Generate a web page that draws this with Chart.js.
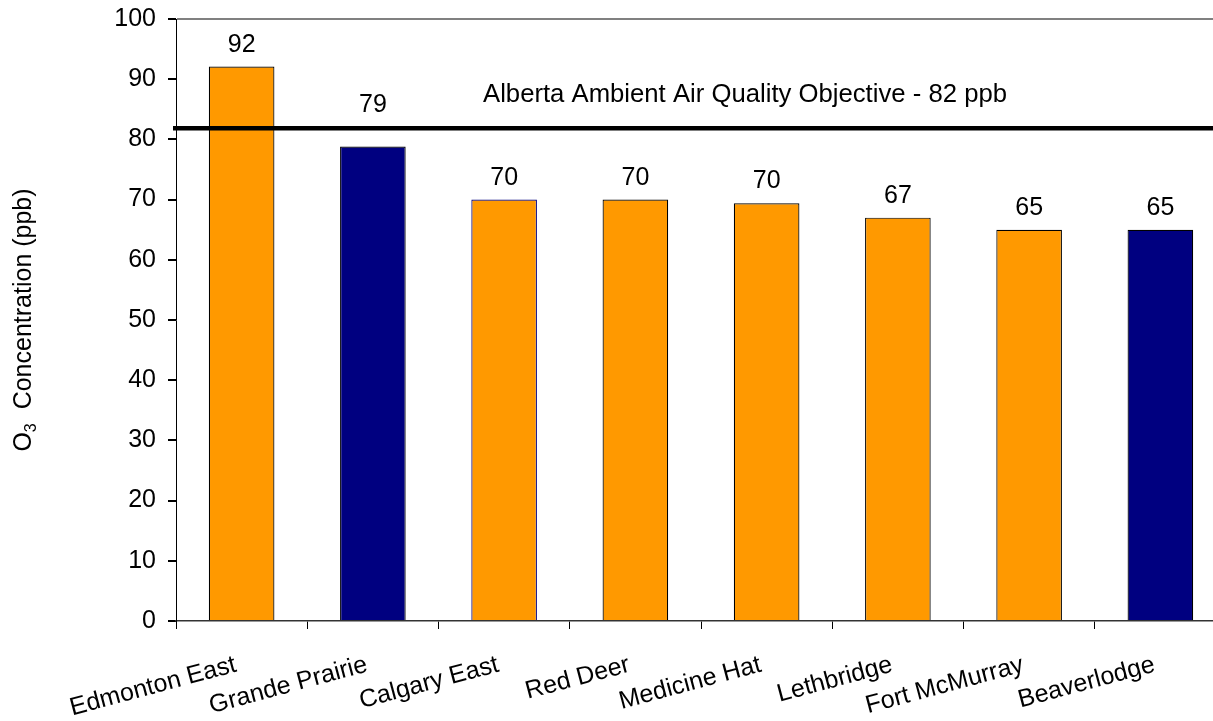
<!DOCTYPE html>
<html>
<head>
<meta charset="utf-8">
<script src="https://cdn.jsdelivr.net/npm/chart.js@4/dist/chart.umd.min.js"></script>
<style>
  html, body { margin: 0; padding: 0; background: #fff; overflow: hidden; }
  canvas { display: block; }
</style>
</head>
<body>
<canvas id="ozone-chart" width="1230" height="721"></canvas>
<script>
'use strict';

// data
var stations = ['Edmonton East', 'Grande Prairie', 'Calgary East', 'Red Deer',
  'Medicine Hat', 'Lethbridge', 'Fort McMurray', 'Beaverlodge'];
var ozoneValues = [92.1, 78.8, 70, 70, 69.4, 67, 65, 65];
var ozoneLabels = ['92', '79', '70', '70', '70', '67', '65', '65'];
var barColors = ['#FF9900', '#000080', '#FF9900', '#FF9900', '#FF9900', '#FF9900', '#FF9900', '#000080'];
var barBorders = ['#000000', '#000000', '#000080', '#000000', '#000000', '#000000', '#000000', '#000000'];
var objectiveValue = 82;
var objectiveText = 'Alberta Ambient Air Quality Objective - 82 ppb';
var yMin = 0;
var yMax = 100;
var yStep = 10;

var FONT = '"Liberation Sans", Arial, sans-serif';
var FONT_SIZE = 25;

// objective line + its label, data labels above bars, and the y title with subscript
var overlayPlugin = {
  id: 'overlay',
  afterDatasetsDraw: function(chart) {
    var ctx = chart.ctx;
    var area = chart.chartArea;
    var yScale = chart.scales.y;
    var lineY = yScale.getPixelForValue(objectiveValue) + 1;

    ctx.save();
    ctx.strokeStyle = '#000';
    ctx.lineWidth = 4.5;
    ctx.beginPath();
    ctx.moveTo(area.left - 3, lineY);
    ctx.lineTo(chart.width, lineY);
    ctx.stroke();

    ctx.fillStyle = '#000';
    ctx.font = '25.7px ' + FONT;
    ctx.textAlign = 'left';
    ctx.textBaseline = 'alphabetic';
    ctx.fillText(objectiveText, area.left + 307, lineY - 26);

    // value labels, pushed above the objective line when they would hit it
    var meta = chart.getDatasetMeta(0);
    ctx.font = FONT_SIZE + 'px ' + FONT;
    ctx.textAlign = 'center';
    meta.data.forEach(function(bar, i) {
      var base = bar.y - 15;
      if (base > lineY - 3 && base - 19 < lineY + 3) {
        base = lineY - 16;
      }
      ctx.fillText(ozoneLabels[i], bar.x, base);
    });

    // y axis title: O3 Concentration (ppb)
    var midY = (area.top + area.bottom) / 2;
    ctx.translate(31, midY);
    ctx.rotate(-Math.PI / 2);
    var big = FONT_SIZE + 'px ' + FONT;
    var small = '16px ' + FONT;
    ctx.font = big;
    var wO = ctx.measureText('O').width;
    var rest = '  Concentration (ppb)';
    var wRest = ctx.measureText(rest).width;
    ctx.font = small;
    var w3 = ctx.measureText('3').width;
    var total = wO + w3 + wRest;
    var x = -total / 2;
    ctx.textAlign = 'left';
    ctx.font = big;
    ctx.fillText('O', x, 0);
    ctx.font = small;
    ctx.fillText('3', x + wO, 5);
    ctx.font = big;
    ctx.fillText(rest, x + wO + w3, 0);
    ctx.restore();
  }
};

var chartCtx = document.getElementById('ozone-chart').getContext('2d');

var ozoneChart = new Chart(chartCtx, {
  type: 'bar',
  data: {
    labels: stations,
    datasets: [{
      data: ozoneValues,
      backgroundColor: barColors,
      borderColor: barBorders,
      borderWidth: 1.2,
      categoryPercentage: 1.0,
      barPercentage: 0.5
    }]
  },
  options: {
    responsive: false,
    animation: false,
    devicePixelRatio: 1,
    layout: {
      padding: { top: 19, right: 4, bottom: 0, left: 0 }
    },
    plugins: {
      legend: { display: false },
      tooltip: { enabled: false },
      title: { display: false }
    },
    scales: {
      x: {
        offset: true,
        grid: {
          offset: true,
          drawOnChartArea: false,
          drawTicks: true,
          tickLength: 8,
          tickColor: '#000'
        },
        border: { display: true, color: '#333', width: 1.5 },
        ticks: {
          color: '#000',
          font: { size: FONT_SIZE, family: FONT },
          minRotation: 15,
          maxRotation: 15,
          autoSkip: false,
          labelOffset: -6,
          padding: 21
        },
        afterFit: function(scale) {
          scale.height = 100;
          scale.paddingLeft = 0;
          scale.paddingRight = 0;
        }
      },
      y: {
        min: yMin,
        max: yMax,
        grid: {
          color: function(c) {
            return c.tick && c.tick.value === yMax ? '#808080' : 'rgba(0,0,0,0)';
          },
          lineWidth: 2,
          tickLength: 8,
          tickColor: '#000'
        },
        border: { display: true, color: '#000', width: 1 },
        ticks: {
          stepSize: yStep,
          color: '#000',
          font: { size: FONT_SIZE, family: FONT },
          padding: 12
        },
        afterFit: function(scale) {
          scale.width = 176;
          scale.paddingTop = 0;
          scale.paddingBottom = 0;
        }
      }
    }
  },
  plugins: [overlayPlugin]
});
</script>
</body>
</html>
